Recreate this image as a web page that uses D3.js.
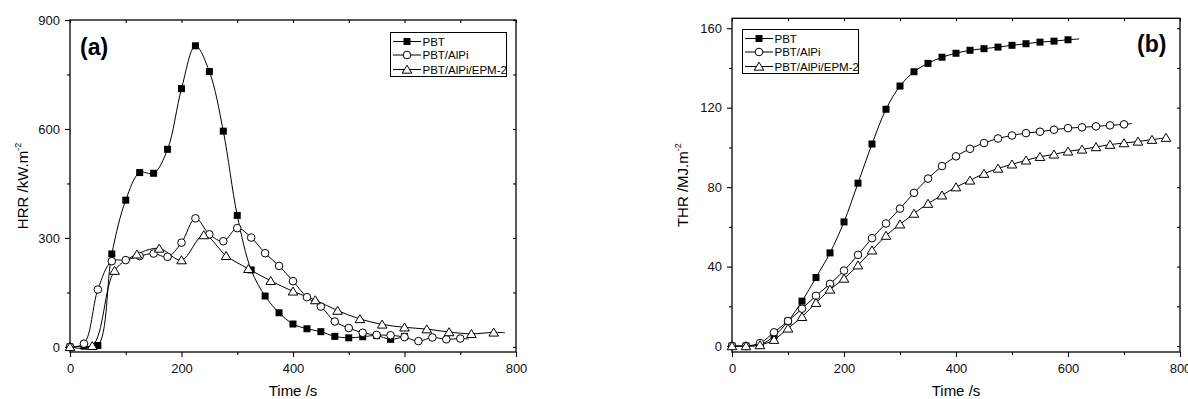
<!DOCTYPE html>
<html>
<head>
<meta charset="utf-8">
<script src="https://cdn.jsdelivr.net/npm/d3@7"></script>
<style>
  body { margin: 0; background: #fff; }
  svg { display: block; font-family: "Liberation Sans", Arial, sans-serif; }
</style>
</head>
<body>
<script>
// ---- data ----
var seriesNames = ["PBT", "PBT/AlPi", "PBT/AlPi/EPM-2"];

// HRR (kW/m2) vs time (s); last point of AlPi / EPM-2 is the line tail without marker
var hrrPbtT  = [0,25,50,75,100,125,150,175,200,225,250,275,300,325,350,375,400,425,450,475,500,525,550,575,600];
var hrrPbtV  = [0,2,4,256,404,480,478,544,711,829,758,594,362,212,140,94,63,50,42,29,25,28,31,21,29];
var hrrAlpiT = [0,25,50,75,100,125,150,175,200,225,250,275,300,325,350,375,400,425,450,475,500,525,550,575,600,625,650,675,700,715];
var hrrAlpiV = [0,9,158,236,239,250,257,248,287,354,310,291,327,301,258,223,181,137,111,70,52,39,33,32,27,16,26,21,23,22];
var hrrEpmT  = [0,40,80,120,160,200,240,280,320,360,400,440,480,520,560,600,640,680,720,760,780];
var hrrEpmV  = [0,3,210,255,271,239,308,251,215,182,153,129,100,77,62,54,49,41,36,40,39];

// THR (MJ/m2) vs time (s)
var thrPbtT  = [0,25,50,75,100,125,150,175,200,225,250,275,300,325,350,375,400,425,450,475,500,525,550,575,600,620];
var thrPbtV  = [0,0,0.6,5,12.5,22.6,34.5,46.9,62.5,82,101.7,119.2,130.9,138.1,142.3,145.4,147.4,148.9,149.7,150.5,151.4,152.2,153,153.5,154.2,154.6];
var thrAlpiT = [0,25,50,75,100,125,150,175,200,225,250,275,300,325,350,375,400,425,450,475,500,525,550,575,600,625,650,675,700,714];
var thrAlpiV = [0,0,1.5,6.9,12.6,18.8,25.3,31.3,38,45.9,54.3,61.7,69.2,77.1,84.3,90.6,95.5,99.3,102.2,104.5,106,107.2,107.9,108.9,109.7,110.1,110.6,111.1,111.6,112];
var thrEpmT  = [0,25,50,75,100,125,150,175,200,225,250,275,300,325,350,375,400,425,450,475,500,525,550,575,600,625,650,675,700,725,750,775];
var thrEpmV  = [0,0,0.5,3.2,8.9,14.7,21.8,28.5,34,40.7,48.2,55.6,61.3,66.7,71.7,75.9,80,83.4,86.8,89.4,91.5,93.5,95.3,96.5,98,99,100.2,101.4,102.2,103,103.9,104.9];

var xTicks = [0,200,400,600,800];
var hrrTicks = [0,300,600,900];
var thrTicks = [0,40,80,120,160];

var W = 1188, H = 399;
var svg = d3.select("body").append("svg").attr("width", W).attr("height", H);

function zip(ts, vs, marked) {
  return ts.map(function(t, i){ return {t: t, v: vs[i], m: i < marked}; });
}

function marker(g, kind, cx, cy) {
  if (kind === "square") {
    g.append("rect").attr("x", cx-3.5).attr("y", cy-3.5).attr("width", 7).attr("height", 7)
      .attr("fill", "#000");
  } else if (kind === "circle") {
    g.append("circle").attr("cx", cx).attr("cy", cy).attr("r", 3.8)
      .attr("fill", "#fff").attr("stroke", "#000").attr("stroke-width", 1);
  } else {
    g.append("path").attr("d", "M" + cx + "," + (cy-4.3) + "L" + (cx+4.8) + "," + (cy+3.7) + "L" + (cx-4.8) + "," + (cy+3.7) + "Z")
      .attr("fill", "#fff").attr("stroke", "#000").attr("stroke-width", 1);
  }
}

function panel(o) {
  var x = d3.scaleLinear().domain([0,800]).range([o.left, o.right]);
  var y = d3.scaleLinear().domain(o.yDomain).range([o.bottom, o.top]);
  var g = svg.append("g");

  // minor ticks
  g.append("g").attr("transform", "translate(0," + o.bottom + ")")
    .call(d3.axisBottom(x).tickValues([100,300,500,700]).tickSize(3).tickFormat("").tickSizeOuter(0));
  g.append("g").attr("transform", "translate(" + o.left + ",0)")
    .call(d3.axisLeft(y).tickValues(o.yMinor).tickSize(3).tickFormat("").tickSizeOuter(0));
  // inward ticks on top and right
  g.append("g").attr("transform", "translate(0," + o.top + ")")
    .call(d3.axisBottom(x).tickValues(d3.range(0,801,100)).tickSize(3).tickFormat("").tickSizeOuter(0));
  g.append("g").attr("transform", "translate(" + o.right + ",0)")
    .call(d3.axisLeft(y).tickValues(o.yTicks.concat(o.yMinor)).tickSize(3).tickFormat("").tickSizeOuter(0));
  // major ticks with labels
  g.append("g").attr("class", "lab").attr("transform", "translate(0," + o.bottom + ")")
    .call(d3.axisBottom(x).tickValues(xTicks).tickSize(5).tickPadding(7).tickSizeOuter(0));
  g.append("g").attr("class", "lab").attr("transform", "translate(" + o.left + ",0)")
    .call(d3.axisLeft(y).tickValues(o.yTicks).tickSize(5).tickPadding(5).tickSizeOuter(0));

  g.selectAll(".domain").remove();
  g.selectAll(".tick line").attr("stroke", "#000").attr("stroke-width", 1.1);
  g.selectAll(".lab text").attr("font-size", 13).attr("fill", "#111")
    .attr("font-family", "'Liberation Sans', Arial, sans-serif");

  // frame
  g.append("rect").attr("x", o.left).attr("y", o.top)
    .attr("width", o.right - o.left).attr("height", o.bottom - o.top)
    .attr("fill", "none").attr("stroke", "#000").attr("stroke-width", 1.3);

  var line = d3.line().x(function(d){ return x(d.t); }).y(function(d){ return y(d.v); })
    .curve(d3.curveCatmullRom.alpha(0.5));

  var kinds = ["square", "circle", "triangle"];
  o.series.forEach(function(s, i) {
    g.append("path").datum(s).attr("d", line)
      .attr("fill", "none").attr("stroke", "#000").attr("stroke-width", 1);
  });
  o.series.forEach(function(s, i) {
    var mg = g.append("g");
    s.filter(function(d){ return d.m; }).forEach(function(d){
      marker(mg, kinds[i], x(d.t), y(d.v));
    });
  });

  // axis titles
  g.append("text").attr("x", (o.left + o.right) / 2).attr("y", 396)
    .attr("text-anchor", "middle").attr("font-size", 15).text("Time /s");
  var yt = g.append("text")
    .attr("transform", "translate(" + o.yTitleX + "," + ((o.top + o.bottom) / 2) + ") rotate(-90)")
    .attr("text-anchor", "middle").attr("font-size", 15);
  yt.append("tspan").text(o.yTitle);
  yt.append("tspan").attr("font-size", 9).attr("dy", -7).text("-2");

  // panel letter
  g.append("text").attr("x", o.letterX).attr("y", o.letterY)
    .attr("font-size", 23).attr("font-weight", "bold").text(o.letter);

  // legend
  var lg = g.append("g");
  lg.append("rect").attr("x", o.legX).attr("y", o.legY).attr("width", 116).attr("height", 44)
    .attr("fill", "#fff").attr("stroke", "#000").attr("stroke-width", 1);
  var rows = [9, 22.5, 37];
  seriesNames.forEach(function(name, i) {
    var ry = o.legY + rows[i];
    lg.append("line").attr("x1", o.legX + 2.5).attr("x2", o.legX + 30.5)
      .attr("y1", ry).attr("y2", ry).attr("stroke", "#000").attr("stroke-width", 1);
    marker(lg, kinds[i], o.legX + 16.5, ry);
    lg.append("text").attr("x", o.legX + 32).attr("y", ry + 4)
      .attr("font-size", 11.5).text(name);
  });
}

panel({
  left: 70, right: 516, top: 20, bottom: 352,
  yDomain: [-14, 900], yTicks: hrrTicks, yMinor: [150,450,750],
  series: [zip(hrrPbtT, hrrPbtV, 25), zip(hrrAlpiT, hrrAlpiV, 29), zip(hrrEpmT, hrrEpmV, 20)],
  yTitle: "HRR /kW.m", yTitleX: 28,
  letter: "(a)", letterX: 80, letterY: 55,
  legX: 390.5, legY: 32.5
});

panel({
  left: 732, right: 1180, top: 18.3, bottom: 352,
  yDomain: [-3, 165], yTicks: thrTicks, yMinor: [20,60,100,140],
  series: [zip(thrPbtT, thrPbtV, 25), zip(thrAlpiT, thrAlpiV, 29), zip(thrEpmT, thrEpmV, 32)],
  yTitle: "THR /MJ.m", yTitleX: 688,
  letter: "(b)", letterX: 1137, letterY: 52,
  legX: 742.5, legY: 29.5
});
</script>
</body>
</html>
